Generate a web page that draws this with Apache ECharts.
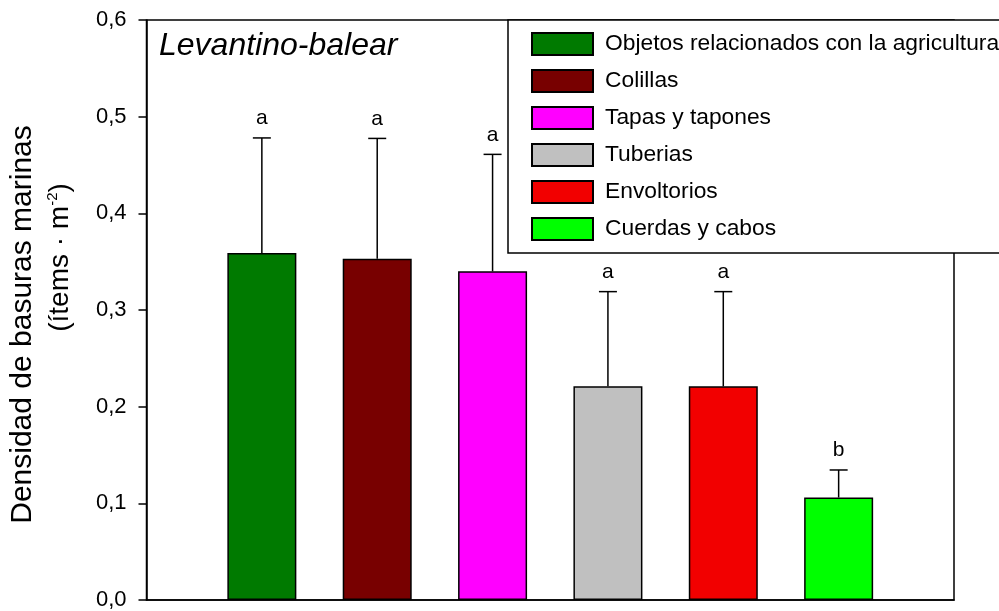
<!DOCTYPE html>
<html>
<head>
<meta charset="utf-8">
<script src="https://cdn.jsdelivr.net/npm/echarts@6/dist/echarts.min.js"></script>
<style>
  html, body { margin: 0; padding: 0; background: #fff; }
  #chart { width: 999px; height: 611px; }
</style>
</head>
<body>
<div id="chart"></div>
<script>
// Litter categories, mean densities (items per m2) and standard errors
const categories = [
  'Objetos relacionados con la agricultura',
  'Colillas',
  'Tapas y tapones',
  'Tuberias',
  'Envoltorios',
  'Cuerdas y cabos'
];
const means = [0.359, 0.353, 0.340, 0.221, 0.221, 0.106];
const errors = [0.119, 0.1245, 0.121, 0.098, 0.098, 0.0285];
const groupLetters = ['a', 'a', 'a', 'a', 'a', 'b'];
const colors = ['#007a00', '#780000', '#ff00ff', '#c0c0c0', '#f20000', '#00ff00'];
const yTicks = [0, 0.1, 0.2, 0.3, 0.4, 0.5, 0.6];

const FONT = 'Arial, "Liberation Sans", sans-serif';

const chart = echarts.init(document.getElementById('chart'), null, { renderer: 'canvas' });

const barSeries = categories.map((name, i) => ({
  name: name,
  type: 'bar',
  barWidth: 69,
  barGap: '-100%',
  data: [[i + 1, means[i]]],
  itemStyle: { color: colors[i], borderColor: '#000', borderWidth: 1.5 },
  emphasis: { disabled: true },
  z: 2
}));

const errorData = categories.map((_, i) => [i + 1, means[i], means[i] + errors[i], groupLetters[i]]);

const errorSeries = {
  type: 'custom',
  data: errorData,
  encode: { x: 0, y: 2 },
  z: 3,
  silent: true,
  renderItem: function (params, api) {
    const x = api.value(0);
    const base = api.coord([x, api.value(1)]);
    const top = api.coord([x, api.value(2)]);
    const cap = 9;
    const lineStyle = { stroke: '#000', lineWidth: 1.5 };
    return {
      type: 'group',
      children: [
        { type: 'line', shape: { x1: base[0], y1: base[1], x2: top[0], y2: top[1] }, style: lineStyle },
        { type: 'line', shape: { x1: top[0] - cap, y1: top[1], x2: top[0] + cap, y2: top[1] }, style: lineStyle },
        {
          type: 'text',
          style: {
            text: groupLetters[params.dataIndex],
            x: top[0],
            y: top[1] - 9,
            align: 'center',
            verticalAlign: 'bottom',
            font: '21px ' + FONT,
            fill: '#000'
          }
        }
      ]
    };
  }
};

const option = {
  animation: false,
  backgroundColor: '#fff',
  title: {
    text: 'Levantino-balear',
    left: 154,
    top: 25,
    textStyle: { fontFamily: FONT, fontStyle: 'italic', fontWeight: 'normal', fontSize: 32, color: '#000' }
  },
  legend: {
    data: categories,
    orient: 'vertical',
    left: 508,
    top: 20,
    padding: [12, 40, 12, 23],
    itemWidth: 61,
    itemHeight: 22,
    itemGap: 13,
    icon: 'rect',
    backgroundColor: '#fff',
    borderColor: '#000',
    borderWidth: 1.5,
    borderRadius: 0,
    selectedMode: false,
    textStyle: { fontFamily: FONT, fontSize: 22.8, color: '#000', lineHeight: 22, padding: [0, 0, 0, 7] },
    z: 10
  },
  grid: {
    left: 144, right: 45, top: 20, bottom: 8,
    show: true, borderColor: '#000', borderWidth: 1.5, backgroundColor: 'transparent'
  },
  xAxis: {
    type: 'value',
    min: 0, max: 7,
    axisLine: { show: true, onZero: false, lineStyle: { color: '#000', width: 1.5 } },
    axisTick: { show: false },
    axisLabel: { show: false },
    splitLine: { show: false }
  },
  yAxis: {
    type: 'value',
    min: yTicks[0],
    max: yTicks[yTicks.length - 1],
    interval: 0.1,
    axisLine: { show: true, lineStyle: { color: '#000', width: 1.5 } },
    axisTick: { show: true, inside: false, length: 8, lineStyle: { color: '#000', width: 1.5 } },
    axisLabel: {
      margin: 20,
      fontFamily: FONT, fontSize: 22, color: '#000',
      formatter: v => v.toFixed(1).replace('.', ',')
    },
    splitLine: { show: false },
    name: '{t|Densidad de basuras marinas}\n{p|(ítems · m}{s|-2}{q|)}',
    nameLocation: 'middle',
    nameRotate: 90,
    nameGap: 68,
    nameTextStyle: {
      fontFamily: FONT, color: '#000', align: 'center',
      rich: {
        t: { fontFamily: FONT, fontSize: 30, lineHeight: 37, padding: [0, 29, 0, 0] },
        p: { fontFamily: FONT, fontSize: 28, lineHeight: 37, padding: [0, 0, 0, 105] },
        q: { fontFamily: FONT, fontSize: 28, lineHeight: 37 },
        s: { fontFamily: FONT, fontSize: 15, lineHeight: 37, verticalAlign: 'top', padding: [4, 0, 0, 0] }
      }
    }
  },
  series: barSeries.concat([errorSeries])
};

chart.setOption(option);
</script>
</body>
</html>
